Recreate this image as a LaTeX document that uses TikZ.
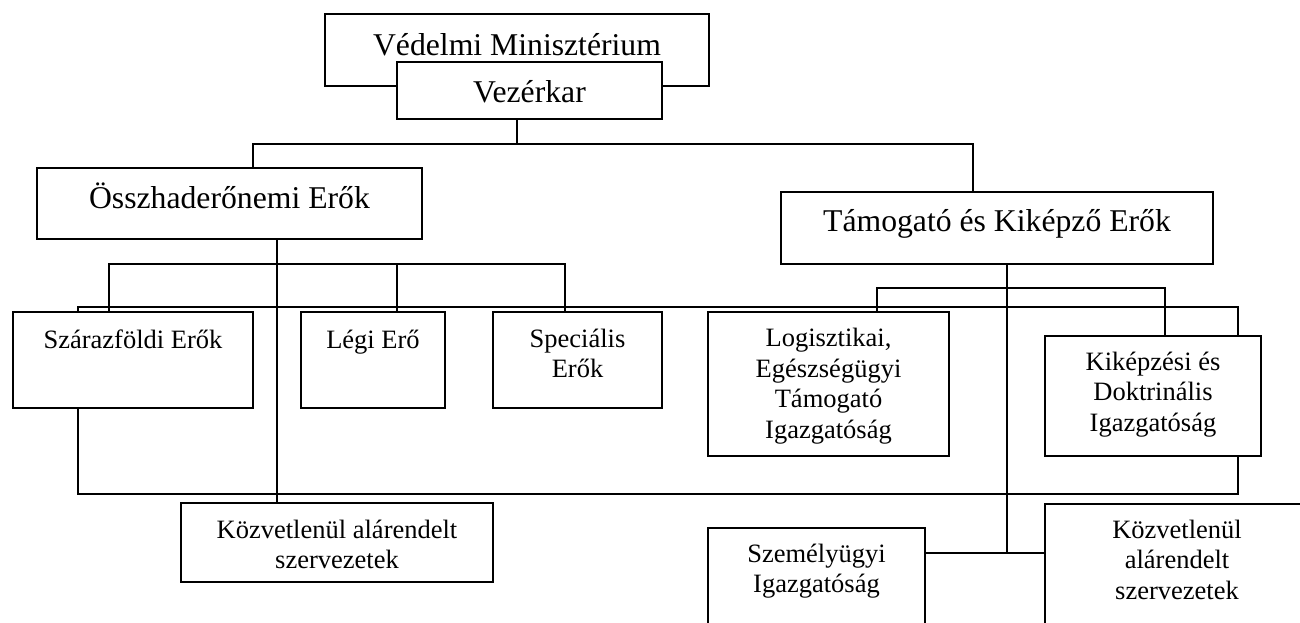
\documentclass[tikz,border=0pt]{standalone}
\usepackage{fontspec}
\setmainfont{Liberation Serif}
\begin{document}
\begin{tikzpicture}[x=1pt,y=-1pt,
  box/.style={draw=black,line width=1.8pt,fill=white,rectangle,inner sep=0pt},
  bigtxt/.style={inner sep=0pt,anchor=base,font=\fontsize{31.7}{36}\selectfont},
  smalltxt/.style={inner sep=0pt,anchor=base,align=center,font=\fontsize{26.5}{30.5}\selectfont},
  wire/.style={draw=black,line width=1.8pt}]
\useasboundingbox (0,0) rectangle (1300,622);
\clip (0,0) rectangle (1300,622);
\fill[white] (0,0) rectangle (1300,622);

% boxes
\node[box,minimum width=384pt,minimum height=72pt] (vm) at (517,50) {};
\node[box,minimum width=265pt,minimum height=57pt] (vk) at (529.5,90.5) {};
\node[box,minimum width=385pt,minimum height=71pt] (osz) at (229.5,203.5) {};
\node[box,minimum width=432pt,minimum height=72pt] (tam) at (997,228) {};
\node[box,minimum width=240pt,minimum height=96pt] (sza) at (133,360) {};
\node[box,minimum width=144pt,minimum height=96pt] (leg) at (373,360) {};
\node[box,minimum width=169pt,minimum height=96pt] (spe) at (577.5,360) {};
\node[box,minimum width=241pt,minimum height=144pt] (log) at (828.5,384) {};
\node[box,minimum width=216pt,minimum height=120pt] (kik) at (1153,396) {};
\node[box,minimum width=312pt,minimum height=79pt] (koza) at (337,542.5) {};
\node[box,minimum width=217pt,minimum height=122pt] (szem) at (816.5,589) {};
\node[box,minimum width=264pt,minimum height=146pt] (kozb) at (1177,577) {};

% labels (a multi-line label is placed by the baseline of its last line)
\node[bigtxt] (tvm) at (517,55) {Védelmi Minisztérium};
\node[bigtxt] (tvk) at (529.5,102) {Vezérkar};
\node[bigtxt] (tosz) at (229.5,208) {Összhaderőnemi Erők};
\node[bigtxt] (ttam) at (997,231) {Támogató és Kiképző Erők};
\node[smalltxt] (tsza) at (133,348) {Szárazföldi Erők};
\node[smalltxt] (tleg) at (373,348) {Légi Erő};
\node[smalltxt] (tspe) at (577.5,377.5) {Speciális\\Erők};
\node[smalltxt] (tlog) at (828.5,438) {Logisztikai,\\Egészségügyi\\Támogató\\Igazgatóság};
\node[smalltxt] (tkik) at (1153,431) {Kiképzési és\\Doktrinális\\Igazgatóság};
\node[smalltxt] (tkoza) at (337,568.5) {Közvetlenül alárendelt\\szervezetek};
\node[smalltxt] (tszem) at (816.5,592.5) {Személyügyi\\Igazgatóság};
\node[smalltxt] (tkozb) at (1177,599) {Közvetlenül\\alárendelt\\szervezetek};

% junction points of the connector lines
\coordinate (j0) at (517,144);
\coordinate (b1l) at (253,144);
\coordinate (b1r) at (973,144);
\coordinate (v1) at (277,300);
\coordinate (b2l) at (109,264);
\coordinate (b2m) at (397,264);
\coordinate (b2r) at (565,264);
\coordinate (l1) at (78,307);
\coordinate (l2) at (1238,307);
\coordinate (b3l) at (877,288);
\coordinate (b3r) at (1165,288);
\coordinate (j3) at (1007,553);
\coordinate (l3) at (78,494);
\coordinate (l4) at (1238,494);

% connectors
\draw[wire] (vk.south -| j0) -- (j0);
\draw[wire] (osz.north -| b1l) -- (b1l) -- (b1r) -- (tam.north -| b1r);
\draw[wire] (osz.south -| v1) -- (koza.north -| v1);
\draw[wire] (sza.north -| b2l) -- (b2l) -- (b2r) -- (spe.north -| b2r);
\draw[wire] (b2m) -- (leg.north -| b2m);
\draw[wire] (sza.north -| l1) -- (l1) -- (l2) -- (kik.north -| l2);
\draw[wire] (log.north -| b3l) -- (b3l) -- (b3r) -- (kik.north -| b3r);
\draw[wire] (tam.south -| j3) -- (j3);
\draw[wire] (szem.east |- j3) -- (kozb.west |- j3);
\draw[wire] (sza.south -| l3) -- (l3) -- (l4) -- (kik.south -| l4);
\end{tikzpicture}
\end{document}
